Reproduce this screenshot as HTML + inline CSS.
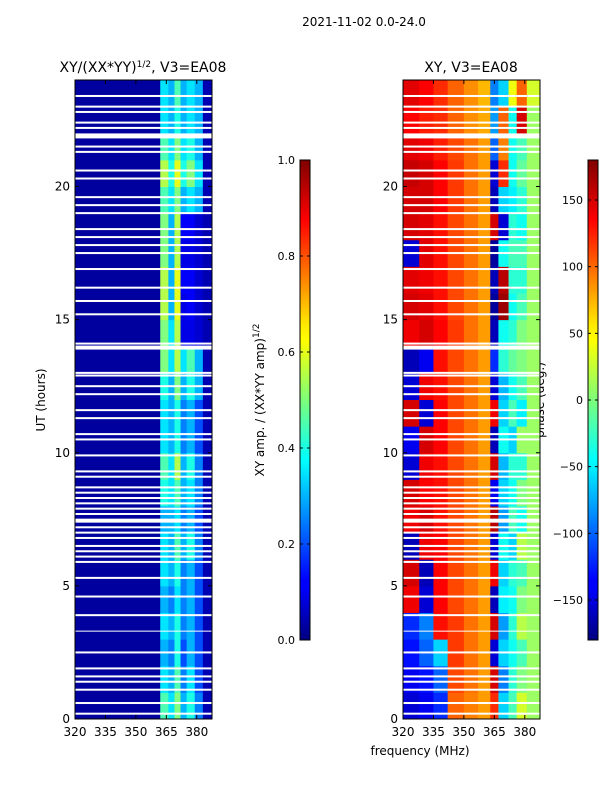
<!DOCTYPE html>
<html><head><meta charset="utf-8"><style>
body{margin:0;background:#fff;font-family:"Liberation Sans",sans-serif}
svg text{font-family:"DejaVu Sans","Liberation Sans",sans-serif;font-size:12px;fill:#000}
</style></head><body>
<svg id="s" width="600" height="800" xmlns="http://www.w3.org/2000/svg">
<defs>
<linearGradient id="jet" x1="0" y1="1" x2="0" y2="0">
<stop offset="0" stop-color="#00007f"/><stop offset="0.11" stop-color="#0000ff"/><stop offset="0.125" stop-color="#0000ff"/><stop offset="0.34" stop-color="#00dcff"/><stop offset="0.375" stop-color="#00ffff"/><stop offset="0.5" stop-color="#7dff7a"/><stop offset="0.625" stop-color="#ffff00"/><stop offset="0.66" stop-color="#ffe600"/><stop offset="0.875" stop-color="#ff0000"/><stop offset="1" stop-color="#7f0000"/>
</linearGradient>
</defs>
<text x="364" y="26" text-anchor="middle">2021-11-02 0.0-24.0</text>
<text x="143" y="72" text-anchor="middle" style="font-size:14px">XY/(XX*YY)<tspan dy="-5" style="font-size:9px">1/2</tspan><tspan dy="5">, V3=EA08</tspan></text>
<text x="471" y="72" text-anchor="middle" style="font-size:14px">XY, V3=EA08</text>
<text x="420" y="755" text-anchor="middle">frequency (MHz)</text>
<text transform="translate(45,400) rotate(-90)" text-anchor="middle">UT (hours)</text>
<text transform="translate(264,400) rotate(-90)" text-anchor="middle">XY amp. / (XX*YY amp)<tspan dy="-5" style="font-size:9px">1/2</tspan></text>
<text transform="translate(544,400) rotate(-90)" text-anchor="middle">phase (deg.)</text>
<g id="g"></g>
</svg>
<script>
const freqEdgesL=[320,340,362,366,369,372,375,379,383,387.5];
const ampRows=[
[0.03,0.03,0.45,0.35,0.5,0.3,0.4,0.25,0.05],
[0.03,0.03,0.35,0.3,0.45,0.25,0.35,0.2,0.05],
[0.03,0.03,0.3,0.25,0.4,0.2,0.3,0.2,0.05],
[0.03,0.03,0.35,0.3,0.4,0.25,0.3,0.2,0.05],
[0.03,0.03,0.3,0.25,0.35,0.25,0.3,0.2,0.05],
[0.03,0.03,0.35,0.3,0.4,0.25,0.3,0.2,0.05],
[0.03,0.03,0.35,0.3,0.45,0.3,0.4,0.25,0.05],
[0.03,0.03,0.3,0.3,0.35,0.25,0.3,0.2,0.05],
[0.03,0.03,0.4,0.35,0.45,0.3,0.35,0.25,0.05],
[0.03,0.03,0.45,0.35,0.55,0.3,0.4,0.25,0.05],
[0.03,0.03,0.35,0.3,0.4,0.25,0.3,0.2,0.05],
[0.03,0.03,0.35,0.3,0.4,0.25,0.3,0.2,0.05],
[0.03,0.03,0.4,0.3,0.5,0.3,0.4,0.3,0.05],
[0.03,0.03,0.5,0.35,0.55,0.35,0.45,0.3,0.05],
[0.03,0.03,0.5,0.35,0.55,0.1,0.1,0.08,0.05],
[0.03,0.03,0.55,0.3,0.6,0.1,0.12,0.08,0.05],
[0.03,0.03,0.55,0.3,0.6,0.12,0.12,0.08,0.05],
[0.03,0.03,0.5,0.3,0.55,0.1,0.1,0.08,0.05],
[0.03,0.03,0.5,0.3,0.55,0.12,0.12,0.08,0.05],
[0.03,0.03,0.45,0.35,0.5,0.3,0.35,0.3,0.05],
[0.03,0.03,0.55,0.4,0.6,0.4,0.5,0.35,0.05],
[0.03,0.03,0.45,0.35,0.5,0.35,0.4,0.3,0.05],
[0.03,0.03,0.35,0.3,0.4,0.3,0.35,0.3,0.05],
[0.03,0.03,0.35,0.3,0.45,0.3,0.35,0.3,0.05]];
const freqEdgesR=[320,328,335,342,350,357,363,367,372,376,381,387.5];
const phaseRows=[
[-150,-140,-120,100,90,80,120,-60,-20,30,10],
[-140,-130,-100,110,95,80,150,-90,-30,0,10],
[-130,-100,-60,115,95,80,-150,-60,-40,-20,10],
[-120,-90,130,115,95,80,150,-80,-30,20,10],
[140,-150,135,110,95,80,-160,-50,-40,0,10],
[150,-160,135,110,95,80,140,-60,-30,-20,10],
[-160,140,135,110,95,80,-150,-40,-60,20,10],
[140,150,130,110,95,80,160,-80,-20,-40,10],
[150,135,130,110,95,80,-140,-60,-40,0,10],
[-150,140,130,110,95,80,150,-70,-30,-30,10],
[-140,150,135,110,95,80,-160,-40,-60,10,10],
[150,-150,135,110,95,80,140,-60,-20,-50,10],
[-150,140,130,110,95,80,-150,-70,-40,-20,10],
[-160,-140,130,110,95,80,-120,-30,-10,0,10],
[140,150,135,115,95,80,-160,-40,-30,0,10],
[150,145,130,110,95,80,-170,170,-40,-20,10],
[145,140,130,110,95,80,-160,160,-30,-30,10],
[-150,145,130,110,95,80,-170,-40,-20,-20,10],
[150,145,130,110,95,80,150,-150,-30,-40,10],
[150,150,135,115,95,80,-160,-60,-50,-30,10],
[155,150,135,115,95,80,-150,120,-40,-10,10],
[145,140,125,110,95,80,-100,90,-40,-20,10],
[135,125,120,100,85,75,-80,100,-40,150,10],
[145,135,120,100,85,70,-90,-60,40,100,30]];
const flagHours=[0.2,0.6,1.1,1.4,1.6,1.9,2.5,3.3,3.9,4.6,5.3,5.9,6.1,6.3,6.5,6.8,7.0,7.2,7.45,7.7,7.9,8.1,8.3,8.5,8.7,9.1,9.3,9.9,10.5,10.7,11.3,11.6,12.2,12.5,12.9,13.0,13.95,14.1,15.2,15.7,16.2,16.9,17.5,17.8,18.1,18.4,19.0,19.3,19.6,20.3,20.6,21.3,21.5,21.9,22.2,22.4,22.8,23.0,23.4];
const flagWidth=[2,2,2,2,2,2,2,1,2,2,2,2,2,2,2,2,2,2,4,2,2,2,2,2,2,2,2,2,2,2,2,2,2,2,2,2,4,2,2,2,2,2,2,2,2,2,2,2,2,2,2,2,2,5,2,2,2,2,2];
const yTicks=[0,5,10,15,20];
const xTicks=[320,335,350,365,380];
const ampTicks=[0.0,0.2,0.4,0.6,0.8,1.0];
const phaseTicks=[-150,-100,-50,0,50,100,150];

const NS='http://www.w3.org/2000/svg';
const g=document.getElementById('g');
function mk(t,a){const e=document.createElementNS(NS,t);for(const k in a)e.setAttribute(k,a[k]);g.appendChild(e);return e;}
function jet(v){v=Math.max(0,Math.min(1,v));
 const c=x=>Math.round(255*Math.max(0,Math.min(1,x)));
 const r=c(1.5-Math.abs(4*v-3)),gg=c(1.5-Math.abs(4*v-2)),b=c(1.5-Math.abs(4*v-1));
 return `rgb(${r},${gg},${b})`;}
const y0=719,y1=80;
const yS=h=>y0-(h/24)*(y0-y1);
function panel(px,edges,rows,norm,name){
 const xS=f=>px+(f-320)/(387.5-320)*137;
 rows.forEach((row,i)=>{row.forEach((v,j)=>{
  const r=mk('rect',{x:xS(edges[j]),y:yS(i+1),width:xS(edges[j+1])-xS(edges[j])+0.5,height:yS(i)-yS(i+1)+0.5,fill:jet(norm(v))});
  
  
 });});
 flagHours.forEach((h,i)=>{
  const r=mk('rect',{x:px,y:yS(h)-flagWidth[i]/2,width:137,height:flagWidth[i],fill:'#fff'});
  
  
 });
 const fr=mk('rect',{x:px,y:y1,width:137,height:y0-y1,fill:'none',stroke:'#000','stroke-width':1});
 
 
 yTicks.forEach(t=>{const y=yS(t);
  mk('line',{x1:px,x2:px+4,y1:y,y2:y,stroke:'#000'});mk('line',{x1:px+133,x2:px+137,y1:y,y2:y,stroke:'#000'});
  const tx=mk('text',{x:px-5,y:y+4,'text-anchor':'end'});tx.textContent=t;
  
  });
 xTicks.forEach(t=>{const x=xS(t);
  mk('line',{x1:x,x2:x,y1:y0,y2:y0-4,stroke:'#000'});mk('line',{x1:x,x2:x,y1:y1,y2:y1+4,stroke:'#000'});
  const tx=mk('text',{x:x,y:y0+17,'text-anchor':'middle'});tx.textContent=t;
  
  });
}
panel(75,freqEdgesL,ampRows,v=>v,'amp');
panel(403,freqEdgesR,phaseRows,v=>(v+180)/360,'phase');
function cbar(x,ticks,lo,hi,name,fmt){
 const r=mk('rect',{x:x,y:160,width:10,height:480,fill:'url(#jet)',stroke:'#000','stroke-width':1});
 
 
 ticks.forEach(t=>{const y=640-(t-lo)/(hi-lo)*480;
  mk('line',{x1:x,x2:x+3,y1:y,y2:y,stroke:'#000'});mk('line',{x1:x+7,x2:x+10,y1:y,y2:y,stroke:'#000'});
  const tx=mk('text',{x:x-5,y:y+4,'text-anchor':'end',style:'font-size:11px'});tx.textContent=fmt(t);
  
  });
}
cbar(300,ampTicks,0,1,'amp-colorbar',t=>t.toFixed(1));
cbar(588,phaseTicks,-180,180,'phase-colorbar',t=>t<0?'\u2212'+(-t):''+t);
</script>
</body></html>
